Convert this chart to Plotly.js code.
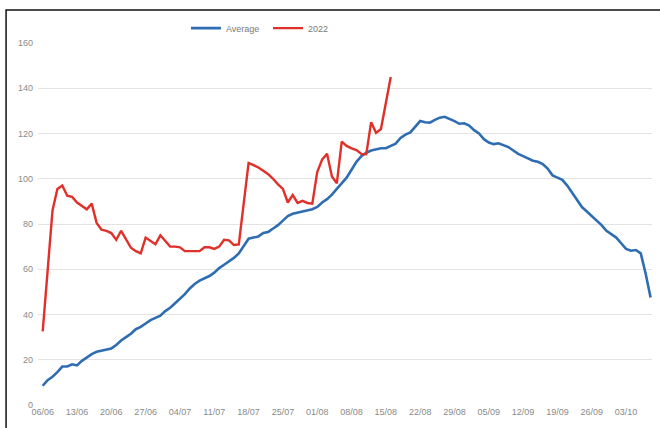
<!DOCTYPE html>
<html>
<head>
<meta charset="utf-8">
<script src="https://cdn.plot.ly/plotly-3.0.1.min.js"></script>
<style>
html,body{margin:0;padding:0;background:#fff;}
#chart{width:660px;height:428px;}
</style>
</head>
<body>
<div id="chart"></div>
<script>
// Daily series starting 06/06/2022
const startDate = '2022-06-06';
const seriesNames = ['Average', '2022'];

const averageValues = [
  8.5, 11, 12.5, 14.5, 17, 17, 18, 17.5, 19.5, 21,
  22.5, 23.5, 24, 24.2, 25, 26.5, 28.5, 30, 31.5, 33.5,
  34.5, 36, 37.5, 38.5, 39.5, 41.5, 43, 45, 47, 49,
  51.5, 53.5, 55, 56, 57, 58.5, 60.5, 62, 63.5, 65,
  67, 70, 73.5, 74, 74.5, 76, 76.5, 78, 79.5, 81.5,
  83.5, 84.5, 85, 85.5, 86, 86.5, 87.5, 89.5, 91, 93,
  95.5, 98, 100.5, 104, 107.5, 110, 111.5, 112.5, 113, 113.5,
  113.5, 114.5, 115.5, 118, 119.5, 120.5, 123, 125.5, 125, 124.8,
  126, 127, 127.4, 126.5, 125.5, 124.3, 124.5, 123.5, 121.5, 120,
  117.5, 116, 115.3, 115.7, 115, 114, 112.5, 111, 110, 109,
  108, 107.5, 106.5, 104.5, 101.5, 100.5, 99.5, 97, 94, 91,
  87.5, 85.5, 83.5, 81.5, 79.5, 77, 75.5, 74, 71.5, 69,
  68.2, 68.5, 67, 58, 47.5
];

const values2022 = [
  32.5, 60, 86, 95.5, 97, 92.5, 92, 89.5, 88, 86.5,
  89, 80.5, 77.5, 77, 76, 73, 77, 73, 69.5, 68,
  67, 74, 72.5, 71, 75, 72.5, 70, 70, 69.7, 68,
  68, 68, 68, 69.7, 69.7, 69, 70, 73, 72.8, 70.7,
  71, 89, 107, 106, 105, 103.5, 102, 100, 97.5, 95.5,
  89.5, 92.8, 89.3, 90.2, 89.3, 89, 103, 108.5, 111, 101,
  98, 116.4, 114.5, 113.4, 112.7, 111, 110.8, 125, 120.3, 122,
  134, 145
];

const yTicks = [0, 20, 40, 60, 80, 100, 120, 140, 160];

function dayList(n) {
  const out = [];
  const base = new Date(startDate + 'T00:00:00Z');
  for (let i = 0; i < n; i++) {
    const d = new Date(base.getTime() + i * 86400000);
    out.push(d.toISOString().slice(0, 10));
  }
  return out;
}

const xAvg = dayList(averageValues.length);
const x2022 = dayList(values2022.length);

const fontFam = 'Liberation Sans Narrow, Liberation Sans, Arial, sans-serif';

const traces = [
  {
    x: xAvg, y: averageValues, name: seriesNames[0], type: 'scatter', mode: 'lines',
    line: {color: '#2f6db3', width: 2.6, shape: 'linear'}
  },
  {
    x: x2022, y: values2022, name: seriesNames[1], type: 'scatter', mode: 'lines',
    line: {color: '#e0302a', width: 2.4, shape: 'linear'}
  }
];

const layout = {
  width: 660, height: 428,
  margin: {l: 38, r: 8, t: 43, b: 23, pad: 0},
  paper_bgcolor: '#ffffff', plot_bgcolor: '#ffffff',
  font: {family: fontFam, size: 9, color: '#8a8a8a'},
  showlegend: true,
  legend: {
    orientation: 'h', x: 0.241, xanchor: 'left', y: 1.041, yanchor: 'middle',
    font: {family: fontFam, size: 9, color: '#7a7a7a'},
    entrywidth: 37, entrywidthmode: 'pixels', itemwidth: 30,
    bgcolor: 'rgba(0,0,0,0)', traceorder: 'normal'
  },
  xaxis: {
    type: 'date',
    range: ['2022-06-05 01:00', '2022-10-08 07:00'],
    tick0: startDate, dtick: 7 * 86400000, tickformat: '%d/%m',
    showgrid: false, zeroline: false, showline: false, ticks: '',
    tickfont: {family: fontFam, size: 9, color: '#8a8a8a'},
    fixedrange: true
  },
  yaxis: {
    range: [0, 160], tickvals: yTicks, ticktext: yTicks.map(String),
    showgrid: true, gridcolor: '#e3e3e3', gridwidth: 1,
    zeroline: false, showline: false, ticks: '',
    ticklabelstandoff: 4,
    tickfont: {family: fontFam, size: 9, color: '#8a8a8a'},
    fixedrange: true
  },
  shapes: [
    {type: 'rect', xref: 'paper', yref: 'paper', x0: -0.052, x1: 1.2, y0: -0.3, y1: 1.091,
     line: {color: '#111111', width: 1.5}, fillcolor: 'rgba(0,0,0,0)', layer: 'above'}
  ]
};

Plotly.newPlot('chart', traces, layout, {displayModeBar: false, staticPlot: true});
</script>
</body>
</html>
